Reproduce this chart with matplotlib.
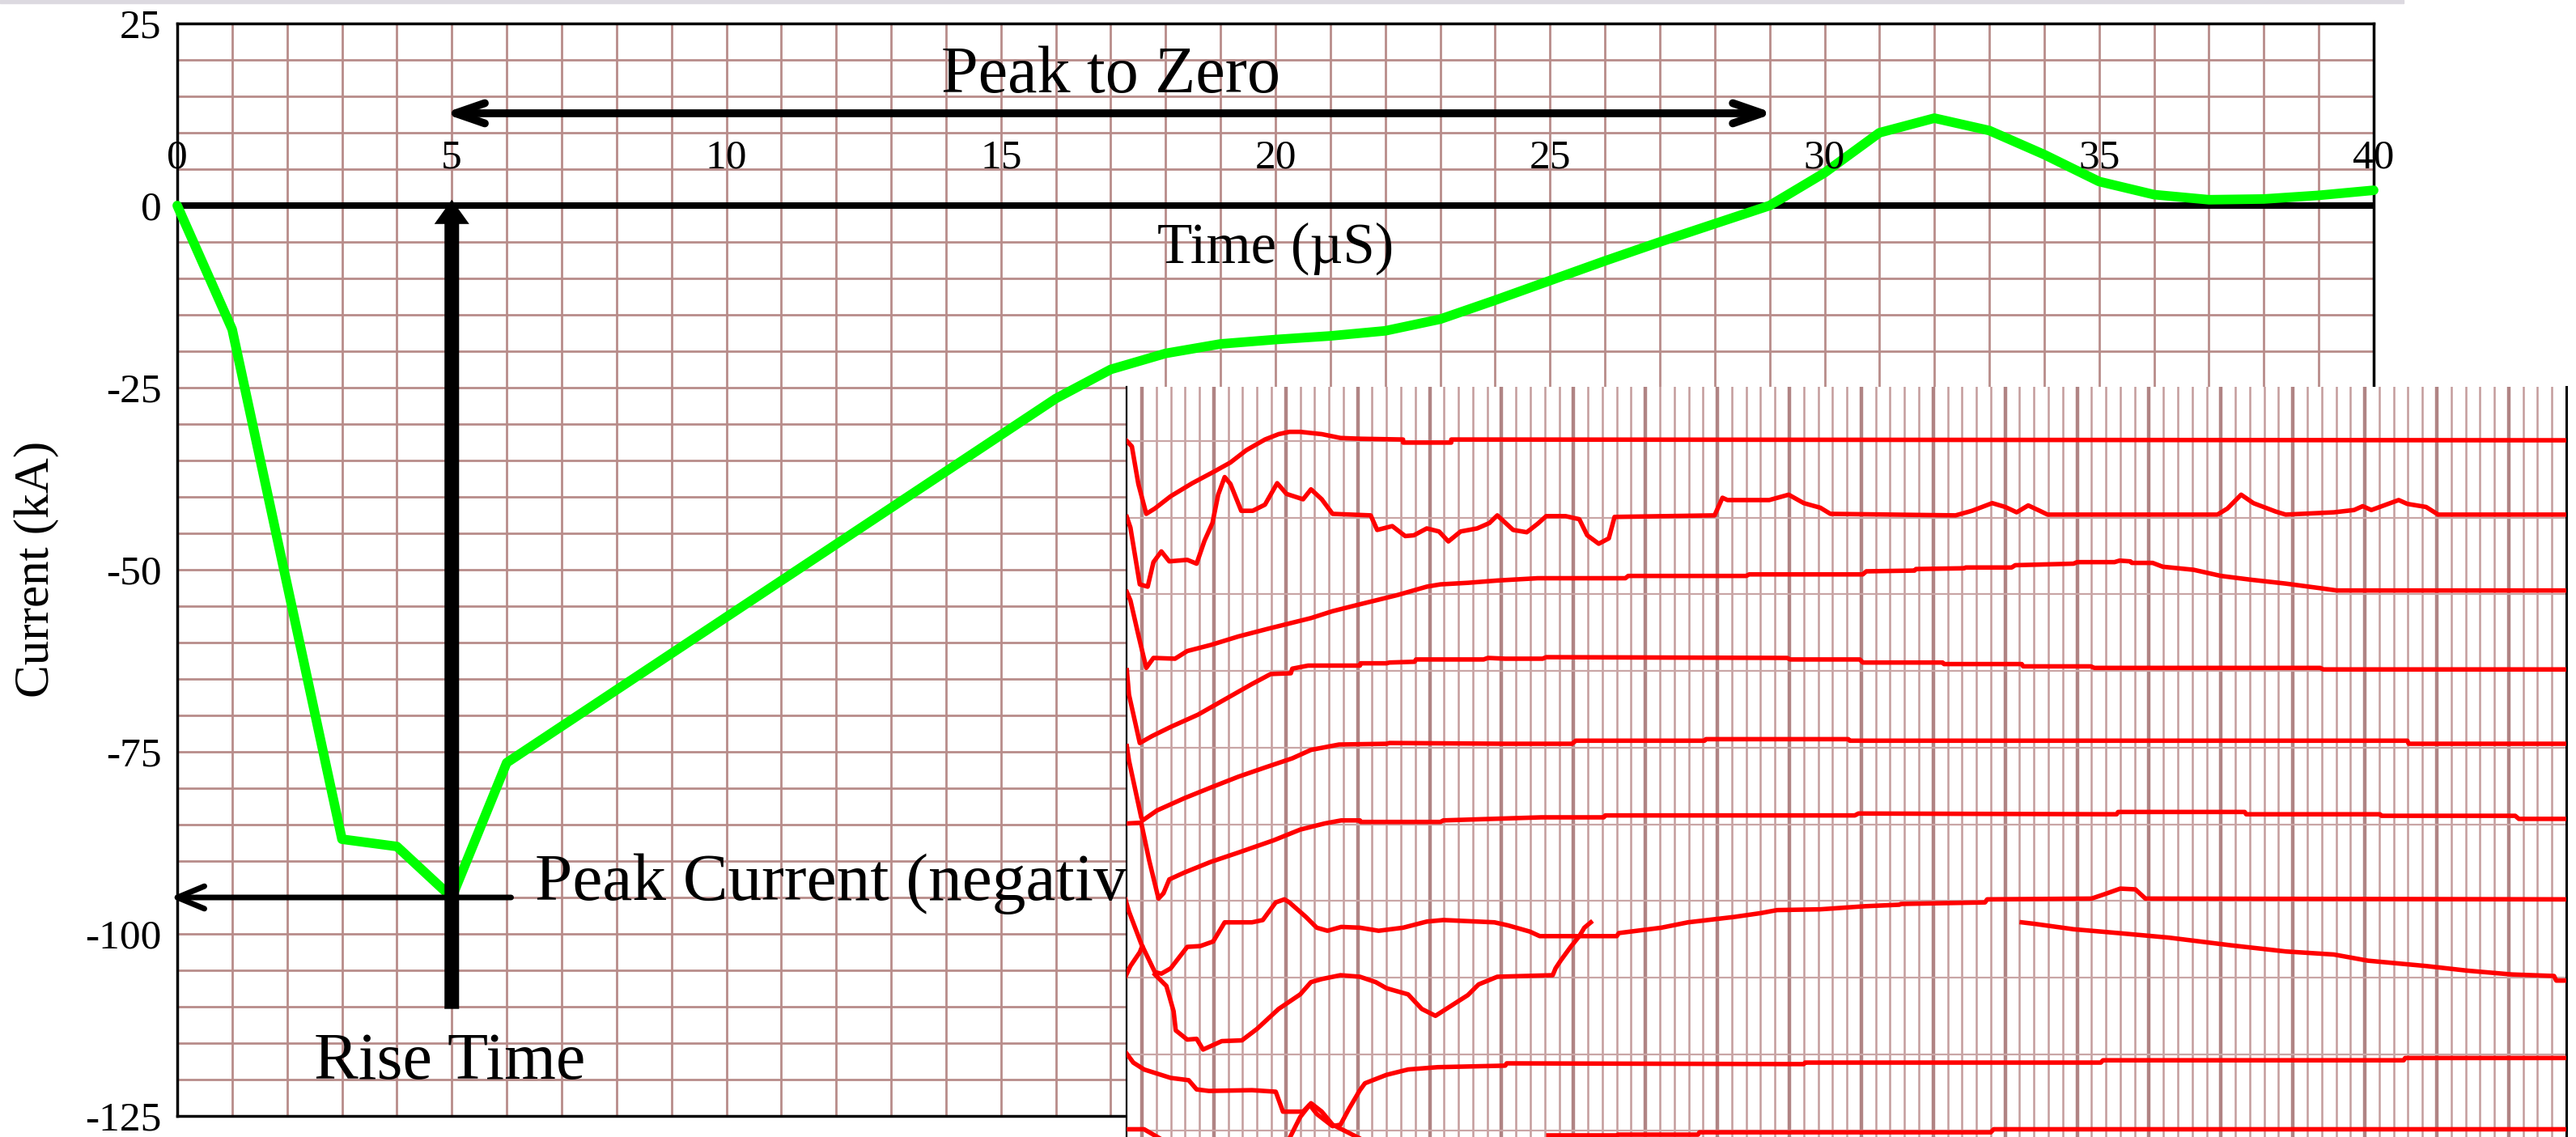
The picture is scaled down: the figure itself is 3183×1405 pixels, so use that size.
import numpy as np
import matplotlib
matplotlib.use('Agg')
import matplotlib.pyplot as plt
from matplotlib.patches import FancyArrowPatch, ArrowStyle, Rectangle

plt.rcParams['font.family'] = ['Liberation Serif', 'DejaVu Serif']
plt.rcParams['axes.unicode_minus'] = False

# ---------------- main chart data ----------------
time_us = [0, 1, 2, 3, 4, 5, 6, 16, 17, 18, 19, 20, 21, 22, 23, 24, 25, 26,
           27, 28, 29, 30, 31, 32, 33, 34, 35, 36, 37, 38, 39, 40]
current_ka = [0, -17, -52, -87, -88, -95, -76.5, -26.5, -22.5, -20.3, -19, -18.4,
              -17.9, -17.2, -15.6, -13, -10.3, -7.6, -5, -2.5, 0, 4.5, 10, 12,
              10.3, 7, 3.3, 1.5, 0.8, 0.9, 1.4, 2.1]
x_ticks = [0, 5, 10, 15, 20, 25, 30, 35, 40]
y_ticks = [25, 0, -25, -50, -75, -100, -125]
y_tick_labels = ['25', '0', '-25', '-50', '-75', '-100', '-125']

# ---------------- inset (oscillogram) traces: (division, row) ----------------
trace1 = [(-0.21, 1.00), (-0.14, 1.07), (-0.05, 1.56), (0.06, 1.95), (0.18, 1.88), (0.40, 1.72),
          (0.70, 1.55), (1.00, 1.40), (1.23, 1.28), (1.45, 1.12), (1.71, 0.98), (1.90, 0.91),
          (2.05, 0.88), (2.20, 0.88), (2.50, 0.91), (2.76, 0.96), (3.03, 0.97), (3.63, 0.98),
          (3.63, 1.02), (4.30, 1.02), (4.30, 0.98), (19.80, 0.99)]
trace2 = [(-0.21, 1.99), (-0.16, 2.13), (-0.03, 2.87), (0.08, 2.90), (0.16, 2.58), (0.27, 2.44),
          (0.38, 2.57), (0.63, 2.55), (0.76, 2.60), (0.87, 2.30), (0.98, 2.07), (1.06, 1.70),
          (1.15, 1.47), (1.23, 1.56), (1.38, 1.91), (1.54, 1.91), (1.71, 1.83), (1.88, 1.55),
          (2.01, 1.69), (2.24, 1.76), (2.35, 1.63), (2.50, 1.76), (2.65, 1.95), (3.18, 1.97),
          (3.27, 2.16), (3.48, 2.11), (3.66, 2.24), (3.78, 2.23), (3.96, 2.14), (4.13, 2.18),
          (4.26, 2.31), (4.43, 2.18), (4.66, 2.14), (4.83, 2.07), (4.94, 1.97), (5.16, 2.16),
          (5.35, 2.19), (5.50, 2.08), (5.62, 1.98), (5.89, 1.98), (6.08, 2.02), (6.19, 2.23),
          (6.35, 2.34), (6.49, 2.27), (6.57, 1.99), (7.96, 1.97), (8.07, 1.74), (8.14, 1.77),
          (8.72, 1.77), (8.99, 1.70), (9.20, 1.81), (9.43, 1.87), (9.57, 1.95), (11.31, 1.97),
          (11.54, 1.91), (11.82, 1.81), (12.00, 1.86), (12.16, 1.93), (12.32, 1.84), (12.48, 1.91),
          (12.59, 1.96), (14.95, 1.96), (15.09, 1.88), (15.28, 1.70), (15.45, 1.81), (15.76, 1.92),
          (15.90, 1.96), (16.57, 1.93), (16.85, 1.90), (16.97, 1.85), (17.09, 1.90), (17.47, 1.77),
          (17.59, 1.82), (17.85, 1.86), (18.02, 1.96), (19.80, 1.96)]
trace3 = [(-0.21, 2.97), (-0.16, 3.08), (-0.05, 3.53), (0.06, 3.96), (0.16, 3.83), (0.46, 3.84),
          (0.63, 3.74), (0.96, 3.66), (1.34, 3.55), (1.75, 3.45), (2.05, 3.38), (2.35, 3.31),
          (2.65, 3.22), (3.03, 3.13), (3.55, 3.01), (3.96, 2.90), (4.15, 2.87), (4.53, 2.85),
          (4.94, 2.82), (5.50, 2.79), (6.72, 2.79), (6.76, 2.76), (8.40, 2.76), (8.44, 2.74),
          (10.02, 2.74), (10.07, 2.70), (10.74, 2.69), (10.76, 2.67), (11.43, 2.66), (11.45, 2.65),
          (12.09, 2.65), (12.14, 2.62), (12.95, 2.60), (13.00, 2.58), (13.52, 2.58), (13.59, 2.56),
          (13.74, 2.57), (13.76, 2.59), (14.05, 2.59), (14.19, 2.64), (14.62, 2.68), (15.00, 2.76),
          (15.42, 2.81), (15.90, 2.86), (16.38, 2.92), (16.61, 2.95), (19.80, 2.95)]
trace4 = [(-0.21, 3.99), (-0.18, 4.31), (-0.03, 4.94), (0.14, 4.85), (0.40, 4.73), (0.78, 4.57),
          (1.23, 4.33), (1.53, 4.17), (1.79, 4.04), (2.07, 4.03), (2.09, 3.97), (2.31, 3.93),
          (3.03, 3.93), (3.04, 3.90), (3.40, 3.90), (3.44, 3.89), (3.79, 3.88), (3.81, 3.85),
          (4.75, 3.85), (4.81, 3.83), (5.05, 3.84), (5.57, 3.84), (5.62, 3.82), (8.97, 3.83),
          (9.01, 3.85), (9.98, 3.85), (10.02, 3.89), (11.13, 3.89), (11.15, 3.91), (12.23, 3.91),
          (12.25, 3.94), (13.19, 3.94), (13.24, 3.96), (16.38, 3.96), (16.42, 3.98), (19.80, 3.98)]
trace5 = [(-0.21, 4.98), (-0.18, 5.17), (-0.01, 5.91), (0.01, 5.95), (0.21, 5.82), (0.59, 5.66),
          (0.96, 5.52), (1.34, 5.38), (1.71, 5.26), (2.09, 5.14), (2.35, 5.03), (2.74, 4.96),
          (3.40, 4.95), (3.44, 4.94), (5.05, 4.95), (5.98, 4.95), (6.03, 4.91), (7.82, 4.91),
          (7.84, 4.89), (9.82, 4.89), (9.84, 4.91), (17.59, 4.91), (17.61, 4.95), (19.80, 4.95)]
trace6 = [(-0.21, 5.99), (-0.01, 5.98), (0.10, 6.47), (0.23, 6.97), (0.30, 6.90), (0.38, 6.72),
          (0.59, 6.63), (0.96, 6.49), (1.34, 6.37), (1.83, 6.21), (2.20, 6.07), (2.54, 5.99),
          (2.77, 5.95), (3.03, 5.95), (3.04, 5.97), (4.15, 5.97), (4.19, 5.95), (5.55, 5.91),
          (6.42, 5.91), (6.44, 5.885), (9.91, 5.885), (9.96, 5.86), (13.55, 5.87), (13.57, 5.84),
          (15.33, 5.84), (15.35, 5.87), (17.21, 5.87), (17.23, 5.89), (19.09, 5.89), (19.14, 5.93),
          (19.80, 5.93)]
trace7 = [(-0.23, 6.98), (-0.18, 7.14), (-0.01, 7.56), (0.18, 7.93), (0.27, 7.95), (0.40, 7.88),
          (0.63, 7.60), (0.81, 7.59), (0.99, 7.53), (1.15, 7.28), (1.53, 7.28), (1.68, 7.25),
          (1.86, 7.02), (1.98, 6.98), (2.05, 7.02), (2.28, 7.21), (2.43, 7.35), (2.58, 7.39),
          (2.77, 7.34), (3.03, 7.35), (3.29, 7.39), (3.63, 7.35), (3.96, 7.27), (4.19, 7.25),
          (4.90, 7.28), (5.09, 7.32), (5.39, 7.40), (5.53, 7.46), (6.60, 7.46), (6.63, 7.42),
          (7.22, 7.35), (7.59, 7.28), (8.23, 7.21), (8.60, 7.16), (8.83, 7.12), (9.43, 7.11),
          (10.05, 7.07), (10.53, 7.05), (10.55, 7.04), (11.72, 7.02), (11.75, 6.98), (13.20, 6.97),
          (13.39, 6.91), (13.60, 6.84), (13.81, 6.85), (13.95, 6.97), (19.80, 6.98)]
trace7b = [(12.23, 7.28), (12.41, 7.30), (12.95, 7.37), (13.57, 7.42), (14.28, 7.48), (15.14, 7.58),
           (15.90, 7.66), (16.57, 7.70), (17.04, 7.78), (17.85, 7.85), (18.42, 7.91), (19.04, 7.96),
           (19.63, 7.98), (19.66, 8.04), (19.80, 8.04)]
trace8a = [(-0.23, 7.99), (-0.16, 7.85), (-0.03, 7.67), (0.00, 7.60)]
trace8 = [(0.18, 7.96), (0.34, 8.11), (0.44, 8.44), (0.47, 8.69), (0.63, 8.81), (0.76, 8.80),
          (0.85, 8.94), (1.11, 8.83), (1.39, 8.82), (1.60, 8.67), (1.90, 8.41), (2.20, 8.22),
          (2.35, 8.06), (2.50, 8.02), (2.76, 7.97), (3.03, 7.99), (3.25, 8.06), (3.40, 8.14),
          (3.70, 8.22), (3.89, 8.41), (4.08, 8.50), (4.23, 8.41), (4.53, 8.23), (4.68, 8.09),
          (4.94, 7.99), (5.71, 7.97), (5.75, 7.88), (5.82, 7.78), (5.96, 7.60), (6.08, 7.46),
          (6.15, 7.35), (6.24, 7.28)]
trace9 = [(-0.23, 8.97), (-0.12, 9.11), (0.03, 9.20), (0.40, 9.31), (0.65, 9.34), (0.76, 9.46),
          (0.93, 9.48), (1.53, 9.47), (1.86, 9.49), (1.96, 9.75), (2.24, 9.75), (2.33, 9.66),
          (2.43, 9.78), (2.65, 9.94), (2.76, 9.92), (2.88, 9.71), (3.03, 9.47), (3.10, 9.38),
          (3.40, 9.27), (3.70, 9.20), (4.11, 9.17), (5.05, 9.15), (5.07, 9.12), (9.20, 9.13),
          (9.22, 9.11), (13.33, 9.11), (13.36, 9.08), (17.54, 9.08), (17.56, 9.05), (19.80, 9.05)]
trace10a = [(-0.23, 9.98), (0.03, 9.98), (0.25, 10.10)]
trace10b = [(2.05, 10.10), (2.20, 9.82), (2.35, 9.64), (2.50, 9.75), (2.65, 9.92), (3.03, 10.10)]
trace10c = [(5.65, 10.06), (6.60, 10.06), (6.62, 10.05), (7.73, 10.05), (7.75, 10.02), (11.80, 10.02),
            (11.84, 9.98), (19.80, 9.98)]
inset_traces = [trace1, trace2, trace3, trace4, trace5, trace6, trace7, trace7b,
                trace8a, trace8, trace9, trace10a, trace10b, trace10c]
inset_rows = list(range(1, 11))
inset_major_div = list(range(0, 20))

GRID = '#b88c8a'

fig = plt.figure(figsize=(31.83, 14.05), dpi=100)
fig.patches.append(Rectangle((0, 1 - 4 / 1405), 2970 / 3183, 4 / 1405,
                             transform=fig.transFigure, color='#dcd9e0', zorder=0))

ax = fig.add_axes([219 / 3183, 26 / 1405, (2933 - 219) / 3183, (1379 - 29) / 1405])
ax.set_xlim(0, 40)
ax.set_ylim(-125, 25)
ax.set_xticks(np.arange(0, 41, 1), minor=True)
ax.set_yticks(np.arange(-125, 26, 5), minor=True)
ax.set_xticks([])
ax.set_yticks(y_ticks)
ax.set_yticklabels(y_tick_labels, fontsize=37)
ax.tick_params(which='both', length=0)
ax.tick_params(axis='y', pad=14)
ax.grid(True, which='both', color=GRID, lw=2.0)
ax.set_axisbelow(True)
for s in ax.spines.values():
    s.set_linewidth(2.5)
    s.set_color('black')

ax.axhline(0, color='black', lw=5.8, zorder=2)
ax.plot(time_us, current_ka, color='#00ff00', lw=8.5, zorder=3,
        solid_joinstyle='round', solid_capstyle='round', clip_on=False)

for t in x_ticks:
    ax.text(t, 5.2, str(t), ha='center', va='baseline', fontsize=37, zorder=4)

ax.text(13.91, 15.6, 'Peak to Zero', fontsize=59, va='baseline', zorder=4)
ax.text(17.85, -7.9, 'Time (\u00b5S)', fontsize=51, va='baseline', zorder=4)
ax.text(6.51, -95.3, 'Peak Current (negative)', fontsize=60, va='baseline', zorder=4)
ax.text(2.49, -119.9, 'Rise Time', fontsize=59, va='baseline', zorder=4)
fig.text(45 / 3183, 0.499, 'Current (kA)', rotation=90, fontsize=44,
         ha='center', va='center')

ax.add_patch(FancyArrowPatch((4.85, 12.67), (29.08, 12.67),
                             arrowstyle=ArrowStyle('<->', head_length=26, head_width=9),
                             mutation_scale=1, lw=7, color='black', shrinkA=0, shrinkB=0,
                             zorder=5))
ax.add_patch(FancyArrowPatch((5, -110.3), (5, 0.8),
                             arrowstyle=ArrowStyle('simple', head_length=21.6, head_width=31,
                                                   tail_width=13),
                             mutation_scale=1, lw=0, color='black', shrinkA=0, shrinkB=0,
                             zorder=5))
ax.add_patch(FancyArrowPatch((6.08, -95), (-0.13, -95),
                             arrowstyle=ArrowStyle('->', head_length=24, head_width=10),
                             mutation_scale=1, lw=5, color='black', shrinkA=0, shrinkB=0,
                             zorder=5, clip_on=False))

# ---------------- inset ----------------
axi = fig.add_axes([1392 / 3183, 0, (3171 - 1392) / 3183, (1405 - 478) / 1405])
axi.set_xlim(-0.214, 19.80)
axi.set_ylim(10.081, 0.2925)
axi.set_facecolor('white')
axi.set_xticks([])
axi.set_yticks([])
for u in np.arange(0.2, 19.8, 0.2):
    if abs(u - round(u)) > 1e-6:
        axi.axvline(u, color='#c49c9c', lw=1.8, zorder=1)
for u in inset_major_div:
    axi.axvline(u, color='#b08484', lw=3.2, zorder=1)
for v in inset_rows:
    axi.axhline(v, color='#c9a6a6', lw=1.6, zorder=1)
for tr in inset_traces:
    us = [p[0] for p in tr]
    vs = [p[1] for p in tr]
    axi.plot(us, vs, color='#ff0000', lw=4.0, zorder=3, solid_joinstyle='round')
axi.spines['top'].set_visible(False)
axi.spines['bottom'].set_visible(False)
axi.spines['left'].set_linewidth(1.6)
axi.spines['right'].set_linewidth(2.2)

fig.savefig('out.png', dpi=100)
